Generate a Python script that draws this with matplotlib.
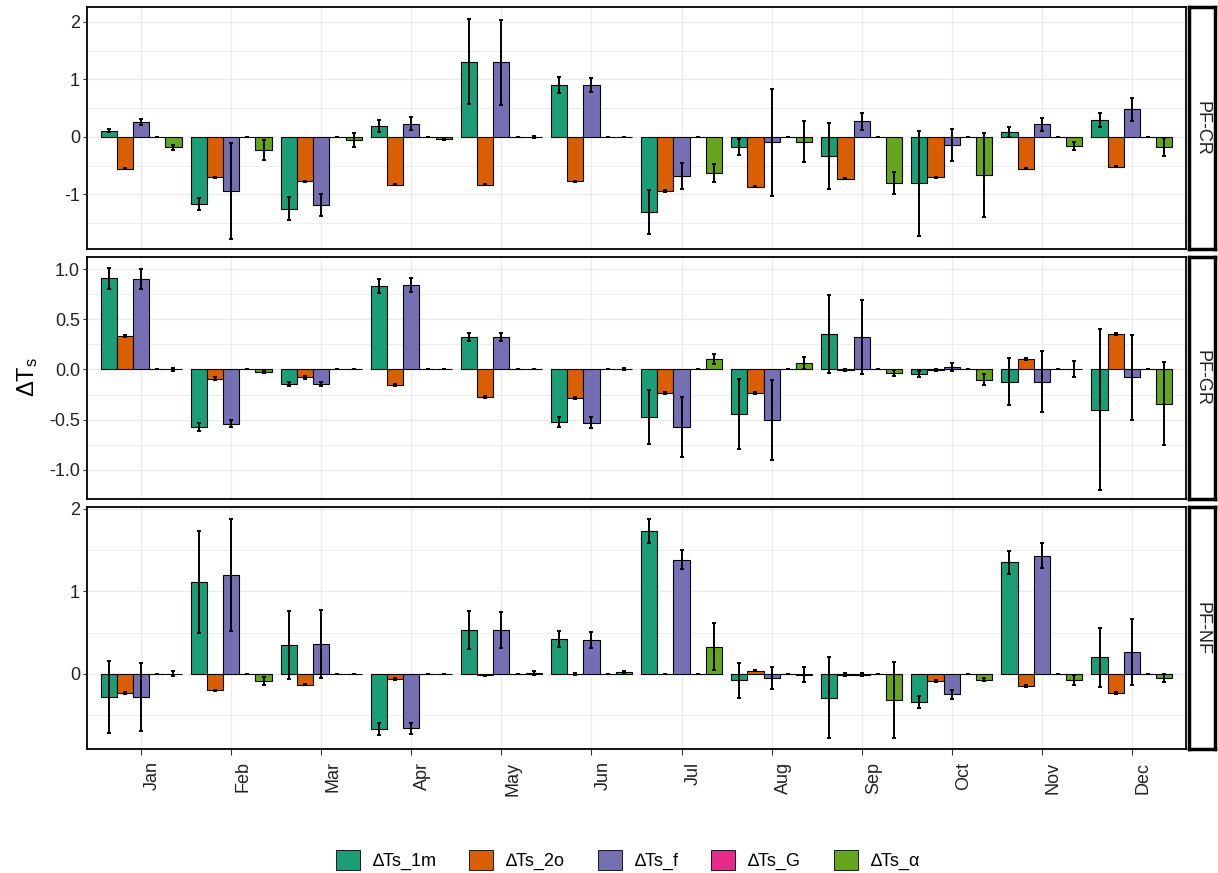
import numpy as np
import matplotlib
matplotlib.use('Agg')
import matplotlib.pyplot as plt
from matplotlib.patches import Patch
import matplotlib.transforms as mtransforms

plt.rcParams['font.family'] = ['Liberation Sans', 'DejaVu Sans']
plt.rcParams['mathtext.default'] = 'regular'
plt.rcParams['axes.unicode_minus'] = False

# categories
months = ['Jan', 'Feb', 'Mar', 'Apr', 'May', 'Jun', 'Jul', 'Aug', 'Sep', 'Oct', 'Nov', 'Dec']
series = ['\u2206Ts_1m', '\u2206Ts_2o', '\u2206Ts_f', '\u2206Ts_G', '\u2206Ts_\u03b1']
colors = ['#1B9E77', '#D95F02', '#7570B3', '#E7298A', '#66A61E']

# PF-CR
cr_1m = [0.11, -1.17, -1.25, 0.19, 1.31, 0.90, -1.31, -0.17, -0.33, -0.81, 0.09, 0.30]
cr_1m_sd = [0.03, 0.10, 0.20, 0.11, 0.74, 0.14, 0.38, 0.14, 0.57, 0.92, 0.09, 0.12]
cr_2o = [-0.55, -0.70, -0.77, -0.83, -0.83, -0.77, -0.94, -0.87, -0.73, -0.70, -0.55, -0.52]
cr_2o_sd = [0.01] * 12
cr_f = [0.26, -0.94, -1.19, 0.23, 1.30, 0.90, -0.68, -0.09, 0.27, -0.14, 0.22, 0.48]
cr_f_sd = [0.055, 0.83, 0.19, 0.11, 0.74, 0.125, 0.23, 0.93, 0.15, 0.285, 0.11, 0.205]
cr_G = [0.0] * 12
cr_G_sd = [0.0] * 12
cr_a = [-0.18, -0.23, -0.05, -0.04, 0.0, 0.0, -0.63, -0.08, -0.80, -0.66, -0.16, -0.18]
cr_a_sd = [0.045, 0.175, 0.12, 0.02, 0.02, 0.0, 0.16, 0.36, 0.195, 0.73, 0.065, 0.155]

# PF-GR
gr_1m = [0.91, -0.57, -0.14, 0.83, 0.32, -0.52, -0.47, -0.44, 0.35, -0.05, -0.12, -0.40]
gr_1m_sd = [0.105, 0.04, 0.02, 0.07, 0.04, 0.05, 0.27, 0.35, 0.39, 0.03, 0.23, 0.80]
gr_2o = [0.33, -0.09, -0.08, -0.15, -0.27, -0.28, -0.23, -0.23, -0.01, -0.01, 0.10, 0.35]
gr_2o_sd = [0.01] * 12
gr_f = [0.90, -0.54, -0.14, 0.84, 0.32, -0.53, -0.57, -0.50, 0.32, 0.02, -0.12, -0.08]
gr_f_sd = [0.097, 0.035, 0.02, 0.067, 0.04, 0.053, 0.30, 0.40, 0.37, 0.04, 0.30, 0.42]
gr_G = [0.0] * 12
gr_G_sd = [0.0] * 12
gr_a = [0.0, -0.03, 0.0, 0.0, 0.0, 0.0, 0.10, 0.06, -0.04, -0.10, 0.0, -0.34]
gr_a_sd = [0.015, 0.01, 0.0, 0.0, 0.0, 0.01, 0.05, 0.06, 0.03, 0.05, 0.08, 0.41]

# PF-NF
nf_1m = [-0.28, 1.11, 0.35, -0.67, 0.53, 0.42, 1.73, -0.08, -0.29, -0.34, 1.35, 0.20]
nf_1m_sd = [0.44, 0.62, 0.41, 0.07, 0.23, 0.10, 0.14, 0.21, 0.49, 0.075, 0.14, 0.36]
nf_2o = [-0.23, -0.20, -0.13, -0.06, -0.02, 0.0, 0.0, 0.04, -0.01, -0.09, -0.15, -0.23]
nf_2o_sd = [0.01, 0.01, 0.01, 0.01, 0.01, 0.01, 0.0, 0.01, 0.02, 0.01, 0.01, 0.01]
nf_f = [-0.28, 1.20, 0.36, -0.66, 0.53, 0.41, 1.38, -0.05, -0.01, -0.25, 1.43, 0.26]
nf_f_sd = [0.41, 0.68, 0.41, 0.07, 0.22, 0.10, 0.115, 0.13, 0.02, 0.06, 0.15, 0.40]
nf_G = [0.0] * 12
nf_G_sd = [0.0] * 12
nf_a = [0.0, -0.09, 0.0, 0.0, 0.01, 0.02, 0.33, -0.01, -0.32, -0.07, -0.07, -0.05]
nf_a_sd = [0.03, 0.05, 0.0, 0.0, 0.02, 0.02, 0.28, 0.09, 0.46, 0.02, 0.06, 0.05]

panels = [
    ('PF-CR', [cr_1m, cr_2o, cr_f, cr_G, cr_a], [cr_1m_sd, cr_2o_sd, cr_f_sd, cr_G_sd, cr_a_sd],
     (-1.95, 2.26), [-1, 0, 1, 2], ['-1', '0', '1', '2'], [-1.5, -0.5, 0.5, 1.5]),
    ('PF-GR', [gr_1m, gr_2o, gr_f, gr_G, gr_a], [gr_1m_sd, gr_2o_sd, gr_f_sd, gr_G_sd, gr_a_sd],
     (-1.29, 1.12), [-1, -0.5, 0, 0.5, 1], ['-1.0', '-0.5', '0.0', '0.5', '1.0'], [-0.75, -0.25, 0.25, 0.75]),
    ('PF-NF', [nf_1m, nf_2o, nf_f, nf_G, nf_a], [nf_1m_sd, nf_2o_sd, nf_f_sd, nf_G_sd, nf_a_sd],
     (-0.91, 2.02), [0, 1, 2], ['0', '1', '2'], [-0.5, 0.5, 1.5]),
]

W, H = 1218, 873
fig = plt.figure(figsize=(W / 100, H / 100), dpi=100)

left, right = 87, 1186
tops = [7, 257, 507]
ph = 242
x = np.arange(len(months))
w = 0.18

for i, (site, vals, sds, ylim, yt, ytl, ymin) in enumerate(panels):
    ax = fig.add_axes([left / W, 1 - (tops[i] + ph) / H, (right - left) / W, ph / H])
    ax.set_axisbelow(True)
    for k in range(5):
        xs = x + (k - 2) * w
        ax.bar(xs, vals[k], width=w, color=colors[k], edgecolor='black', linewidth=0.8, zorder=2)
        ax.errorbar(xs, vals[k], yerr=sds[k], fmt='none', ecolor='black', elinewidth=1.4,
                    capsize=1.5, capthick=1.4, zorder=3)
    ax.set_xlim(-0.6, 11.6)
    ax.set_ylim(*ylim)
    ax.set_yticks(yt)
    ax.set_yticklabels(ytl, fontsize=13, color='#222222')
    ax.set_yticks(ymin, minor=True)
    ax.set_xticks(x)
    ax.grid(which='major', color='#EBEBEB', linewidth=1.0)
    ax.grid(which='minor', axis='y', color='#EBEBEB', linewidth=0.6)
    ax.tick_params(axis='y', which='major', length=3, width=0.8, color='#333333', pad=2)
    ax.tick_params(axis='y', which='minor', length=0)
    for s in ax.spines.values():
        s.set_linewidth(1.3)
        s.set_color('black')
    if i < 2:
        ax.tick_params(axis='x', length=0, labelbottom=False)
    else:
        ax.set_xticklabels(months, rotation=90, fontsize=13, ha='left', va='top', color='#222222')
        ax.tick_params(axis='x', length=4, width=0.8, color='#333333', pad=5)
        off = mtransforms.ScaledTranslation(3 / 100, 0, fig.dpi_scale_trans)
        for lab in ax.get_xticklabels():
            lab.set_transform(lab.get_transform() + off)

    # facet strip
    sx = fig.add_axes([1189 / W, 1 - (tops[i] + ph) / H, 26 / W, ph / H])
    sx.set_xticks([])
    sx.set_yticks([])
    sx.set_facecolor('white')
    for s in sx.spines.values():
        s.set_linewidth(2.5)
        s.set_color('black')
    sx.text(0.5, 0.5, site, rotation=270, ha='center', va='center', fontsize=13,
            color='#222222', transform=sx.transAxes)

fig.text(28 / W, 1 - 377 / H, '\u0394T$_{s}$', rotation=90, ha='center', va='center', fontsize=17)

handles = [Patch(facecolor=c, edgecolor='black', linewidth=0.6) for c in colors]
fig.legend(handles, series, ncol=5, loc='center', bbox_to_anchor=(628 / W, 1 - 860 / H),
           frameon=False, fontsize=13, handlelength=1.33, handleheight=1.33,
           handletextpad=0.72, columnspacing=1.8, borderpad=0.2)

fig.savefig('out.png', dpi=100)
